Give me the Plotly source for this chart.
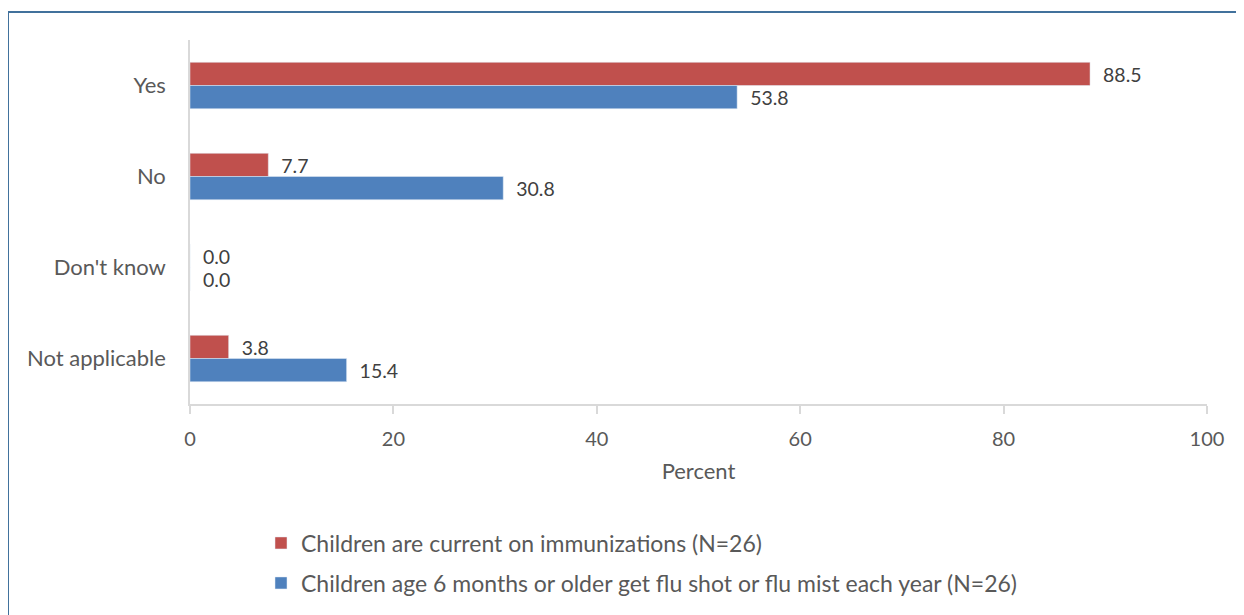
import plotly.graph_objects as go

# ---------------- DATA ----------------
categories = ["Yes", "No", "Don't know", "Not applicable"]
current_immunizations = [88.5, 7.7, 0.0, 3.8]
flu_shot_each_year = [53.8, 30.8, 0.0, 15.4]

series_names = [
    "Children are current on immunizations (N=26)",
    "Children age 6 months or older get flu shot or flu mist each year (N=26)",
]
x_ticks = [0, 20, 40, 60, 80, 100]

RED = "#C0504D"
BLUE = "#4F81BD"
FONT = "Lato, 'Open Sans', sans-serif"
PAD = "\u00a0" * 2

# ---------------- FIGURE ----------------
fig = go.Figure()

fig.add_trace(go.Bar(
    y=categories, x=current_immunizations, orientation="h",
    name=series_names[0], marker=dict(color=RED),
    text=[PAD + f"{v:.1f}" for v in current_immunizations],
    textposition="outside", cliponaxis=False,
    textfont=dict(size=21, color="#404040", family=FONT),
    legend="legend",
))
fig.add_trace(go.Bar(
    y=categories, x=flu_shot_each_year, orientation="h",
    name=series_names[1], marker=dict(color=BLUE),
    text=[PAD + f"{v:.1f}" for v in flu_shot_each_year],
    textposition="outside", cliponaxis=False,
    textfont=dict(size=21, color="#404040", family=FONT),
    legend="legend2",
))

# the page puts the figure 8px in from the top-left corner
OFF = 8
W, H = 1244, 615
L, R, T, B = 190 - OFF, 45, 40 - OFF, 219
pw, ph = W - L - R, H - T - B


def px_x(p):
    return (p - OFF - L) / pw


def px_y(p):
    return (H - B - (p - OFF)) / ph


# outer frame (partly cut off like the screenshot)
fig.add_shape(type="rect", xref="paper", yref="paper",
              x0=px_x(8), x1=px_x(1256), y0=px_y(630), y1=px_y(12),
              line=dict(color="#41719C", width=2), fillcolor="rgba(0,0,0,0)",
              layer="below")

legend_common = dict(
    xanchor="left", yanchor="middle", bgcolor="rgba(0,0,0,0)",
    font=dict(size=23, color="#595959", family=FONT),
    itemwidth=30, itemclick=False,
)

fig.update_layout(
    width=W, height=H,
    margin=dict(l=L, r=R, t=T, b=B, autoexpand=False),
    paper_bgcolor="white", plot_bgcolor="white",
    barmode="group", bargap=0.49, bargroupgap=0,
    font=dict(family=FONT, color="#595959", size=21),
    xaxis=dict(
        range=[0, 100], tickvals=x_ticks, showgrid=False, zeroline=False,
        showline=True, linecolor="#D9D9D9", linewidth=1.5,
        ticks="outside", ticklen=8, tickcolor="#D9D9D9", tickwidth=1.5,
        ticklabelstandoff=8,
        tickfont=dict(size=20, color="#595959"),
        title=dict(text="Percent", font=dict(size=22, color="#595959"), standoff=15),
    ),
    yaxis=dict(
        autorange="reversed", showgrid=False, zeroline=False,
        showline=True, linecolor="#D9D9D9", linewidth=1.5,
        ticks="", ticklabelstandoff=18,
        tickfont=dict(size=22, color="#595959"),
    ),
    legend=dict(x=px_x(261), y=px_y(543), **legend_common),
    legend2=dict(x=px_x(261), y=px_y(583), **legend_common),
    showlegend=True,
)

fig.write_html("out.html")
